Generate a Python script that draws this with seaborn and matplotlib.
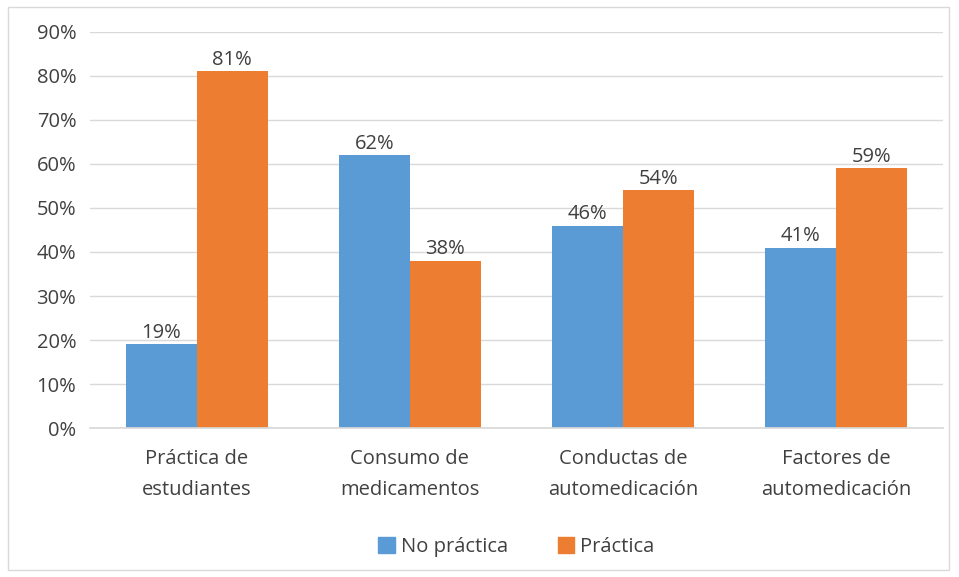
import pandas as pd
import matplotlib.pyplot as plt
import seaborn as sns
from matplotlib.patches import Rectangle

# Data
categories = ['Práctica de\nestudiantes', 'Consumo de\nmedicamentos',
              'Conductas de\nautomedicación', 'Factores de\nautomedicación']
no_practica = [19, 62, 46, 41]
practica = [81, 38, 54, 59]
series_names = ['No práctica', 'Práctica']
colors = ['#5B9BD5', '#ED7D31']

df = pd.DataFrame({
    'Categoria': categories * 2,
    'Serie': [series_names[0]] * 4 + [series_names[1]] * 4,
    'Valor': [v / 100 for v in no_practica + practica],
})

sns.set_theme(style='white')
plt.rcParams['font.family'] = ['Open Sans', 'DejaVu Sans']
text_color = '#404040'
fs = 14.5

fig = plt.figure(figsize=(9.59, 5.77), dpi=100)
ax = fig.add_axes([0.094, 0.258, 0.889, 0.687])

sns.barplot(data=df, x='Categoria', y='Valor', hue='Serie', palette=colors,
            width=0.667, gap=0, saturation=1, linewidth=0, ax=ax, legend=True)

ax.set_ylim(0, 0.9)
ax.set_yticks([i / 10 for i in range(10)])
ax.set_yticklabels([f'{i * 10}%' for i in range(10)])
ax.yaxis.grid(True, color='#D9D9D9', linewidth=1)
ax.set_axisbelow(True)
for s in ['top', 'right', 'left']:
    ax.spines[s].set_visible(False)
ax.spines['bottom'].set_color('#D9D9D9')
ax.tick_params(axis='both', length=0, labelsize=fs, colors=text_color)
ax.tick_params(axis='x', pad=15)
ax.tick_params(axis='y', pad=10)
for lbl in ax.get_xticklabels():
    lbl.set_linespacing(1.75)
ax.set_xlabel('')
ax.set_ylabel('')

for container in ax.containers:
    ax.bar_label(container, labels=[f'{round(b.get_height() * 100)}%' for b in container],
                 fontsize=fs, color=text_color, padding=1)

handles = [Rectangle((0, 0), 1, 1, color=c) for c in colors]
ax.legend(handles, series_names, loc='center', bbox_to_anchor=(0.5, -0.3), ncol=2,
          frameon=False, fontsize=fs, labelcolor=text_color, handlelength=0.8,
          handleheight=0.8, handletextpad=0.3, columnspacing=2.5)

# light frame around the chart
fig.patches.append(Rectangle((0.008, 0.012), 0.982, 0.976, transform=fig.transFigure,
                             fill=False, edgecolor='#D9D9D9', linewidth=1))

fig.savefig('out.png', dpi=100)
